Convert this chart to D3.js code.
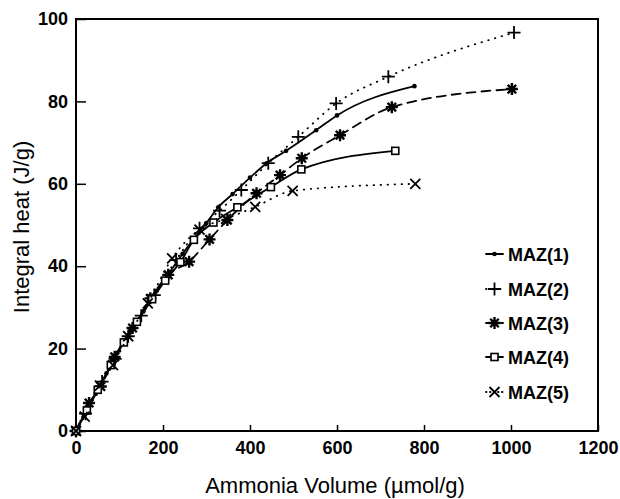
<!DOCTYPE html>
<html>
<head>
<meta charset="utf-8">
<script src="https://cdn.jsdelivr.net/npm/d3@7"></script>
<style>
  html, body { margin: 0; padding: 0; background: #fff; }
  svg { display: block; }
  text { font-family: "Liberation Sans", Arial, Helvetica, sans-serif; fill: #000; }
</style>
</head>
<body>
<svg id="chart" width="620" height="499"></svg>
<script>
// Integral heat of ammonia adsorption on the MAZ samples
const seriesNames = ["MAZ(1)", "MAZ(2)", "MAZ(3)", "MAZ(4)", "MAZ(5)"];

// ammonia volume (µmol/g) and integral heat (J/g) for each sample
const maz1X = [0, 20, 45, 70, 95, 125, 155, 185, 215, 245, 270, 300, 327, 360, 400, 438, 483, 552, 600, 778];
const maz1Y = [0, 4, 9, 14, 19, 24.5, 29, 34, 38.5, 43, 46.5, 50.5, 54.3, 57.5, 61.5, 65, 68, 73, 76.6, 83.7];

const maz2X = [0, 22, 60, 90, 120, 150, 180, 230, 284, 330, 380, 442, 511, 598, 718, 1007];
const maz2Y = [0, 4.2, 12, 17.5, 23, 28, 33, 41.5, 49.2, 53.5, 58.5, 65, 71.4, 79.5, 86, 96.7];

const maz3X = [0, 30, 57, 89, 130, 171, 212, 260, 307, 348, 415, 469, 519, 607, 726, 1002];
const maz3Y = [0, 6.8, 10.8, 18, 25, 32.2, 37.9, 41.1, 46.5, 51.2, 57.7, 62.1, 66.2, 71.8, 78.6, 83.0];

const maz4X = [0, 25, 50, 80, 110, 140, 175, 205, 240, 271, 316, 371, 448, 518, 734];
const maz4Y = [0, 5, 10, 16, 21.5, 26.5, 32, 36.5, 41, 46.4, 50.6, 54.3, 59.2, 63.5, 68];

const maz5X = [0, 20, 55, 85, 120, 165, 221, 284, 345, 412, 498, 780];
const maz5Y = [0, 3.5, 11, 16, 23, 31, 41.9, 48.9, 51.5, 54.4, 58.3, 60];

const xTicks = [0, 200, 400, 600, 800, 1000, 1200];
const yTicks = [0, 20, 40, 60, 80, 100];

const xTitle = "Ammonia Volume (\u00b5mol/g)";
const yTitle = "Integral heat (J/g)";

const svg = d3.select("#chart");
const plot = { left: 76, right: 598, top: 19, bottom: 431 };

const x = d3.scaleLinear().domain([0, 1200]).range([plot.left, plot.right]);
const y = d3.scaleLinear().domain([0, 100]).range([plot.bottom, plot.top]);

// frame
svg.append("rect")
  .attr("x", plot.left).attr("y", plot.top)
  .attr("width", plot.right - plot.left).attr("height", plot.bottom - plot.top)
  .attr("fill", "none").attr("stroke", "#000").attr("stroke-width", 2);

// axes with inward ticks
const xAxis = svg.append("g").attr("transform", `translate(0,${plot.bottom})`)
  .call(d3.axisBottom(x).tickValues(xTicks).tickSize(-6).tickPadding(10).tickFormat(d3.format("d")));
xAxis.select(".domain").remove();
xAxis.selectAll("line").attr("stroke-width", 1.5);
xAxis.selectAll("text").attr("font-size", 18).attr("font-weight", "bold")
  .attr("font-family", "Liberation Sans, Arial, sans-serif");

const yAxis = svg.append("g").attr("transform", `translate(${plot.left},0)`)
  .call(d3.axisLeft(y).tickValues(yTicks).tickSize(-10).tickPadding(8).tickFormat(d3.format("d")));
yAxis.select(".domain").remove();
yAxis.selectAll("line").attr("stroke-width", 1.5);
yAxis.selectAll("text").attr("font-size", 18).attr("font-weight", "bold")
  .attr("font-family", "Liberation Sans, Arial, sans-serif");

// axis titles
svg.append("text").attr("x", 335).attr("y", 493).attr("text-anchor", "middle")
  .attr("font-size", 22).text(xTitle);
svg.append("text").attr("transform", "translate(29,227) rotate(-90)").attr("text-anchor", "middle")
  .attr("font-size", 22).text(yTitle);

// marker shapes
function drawMarker(g, kind, cx, cy) {
  if (kind === "dot") {
    g.append("circle").attr("cx", cx).attr("cy", cy).attr("r", 2.3).attr("fill", "#000");
  } else if (kind === "plus") {
    g.append("path").attr("d", `M${cx - 6.5},${cy}H${cx + 6.5}M${cx},${cy - 6.5}V${cy + 6.5}`)
      .attr("stroke", "#000").attr("stroke-width", 1.8).attr("fill", "none");
  } else if (kind === "star") {
    let d = "";
    for (let i = 0; i < 4; i++) {
      const a = i * Math.PI / 4;
      const dx = 6 * Math.cos(a), dy = 6 * Math.sin(a);
      d += `M${cx - dx},${cy - dy}L${cx + dx},${cy + dy}`;
    }
    g.append("path").attr("d", d).attr("stroke", "#000").attr("stroke-width", 2.4).attr("fill", "none");
    g.append("circle").attr("cx", cx).attr("cy", cy).attr("r", 3).attr("fill", "#000");
  } else if (kind === "square") {
    g.append("rect").attr("x", cx - 3.5).attr("y", cy - 3.5).attr("width", 7).attr("height", 7)
      .attr("fill", "#fff").attr("stroke", "#000").attr("stroke-width", 1.6);
  } else if (kind === "cross") {
    g.append("path").attr("d", `M${cx - 5},${cy - 5}L${cx + 5},${cy + 5}M${cx - 5},${cy + 5}L${cx + 5},${cy - 5}`)
      .attr("stroke", "#000").attr("stroke-width", 1.8).attr("fill", "none");
  }
}

const series = [
  { xs: maz1X, ys: maz1Y, marker: "dot", dash: null },
  { xs: maz2X, ys: maz2Y, marker: "plus", dash: "0.5 6.5" },
  { xs: maz3X, ys: maz3Y, marker: "star", dash: "9 6" },
  { xs: maz4X, ys: maz4Y, marker: "square", dash: null },
  { xs: maz5X, ys: maz5Y, marker: "cross", dash: "0.5 6.5" }
];

const line = d3.line().x(d => x(d[0])).y(d => y(d[1])).curve(d3.curveMonotoneX);

series.forEach(s => {
  const pts = s.xs.map((v, i) => [v, s.ys[i]]);
  const g = svg.append("g");
  g.append("path").datum(pts).attr("d", line)
    .attr("fill", "none").attr("stroke", "#000").attr("stroke-width", 1.8)
    .attr("stroke-linecap", "round")
    .attr("stroke-dasharray", s.dash);
  pts.forEach(p => drawMarker(g, s.marker, x(p[0]), y(p[1])));
});

// legend
const legend = svg.append("g");
const legendRows = [254, 289, 323, 357, 392];
series.forEach((s, i) => {
  const ly = legendRows[i];
  legend.append("path").attr("d", `M486,${ly}H503`)
    .attr("stroke", "#000").attr("stroke-width", 1.8).attr("fill", "none")
    .attr("stroke-linecap", "round")
    .attr("stroke-dasharray", s.dash ? (s.marker === "cross" ? "0.5 3.5" : s.dash) : null);
  drawMarker(legend, s.marker, 494.5, ly);
  legend.append("text").attr("x", 508).attr("y", ly + 6.5)
    .attr("font-size", 18).attr("font-weight", "bold")
    .text(seriesNames[i]);
});
</script>
</body>
</html>
